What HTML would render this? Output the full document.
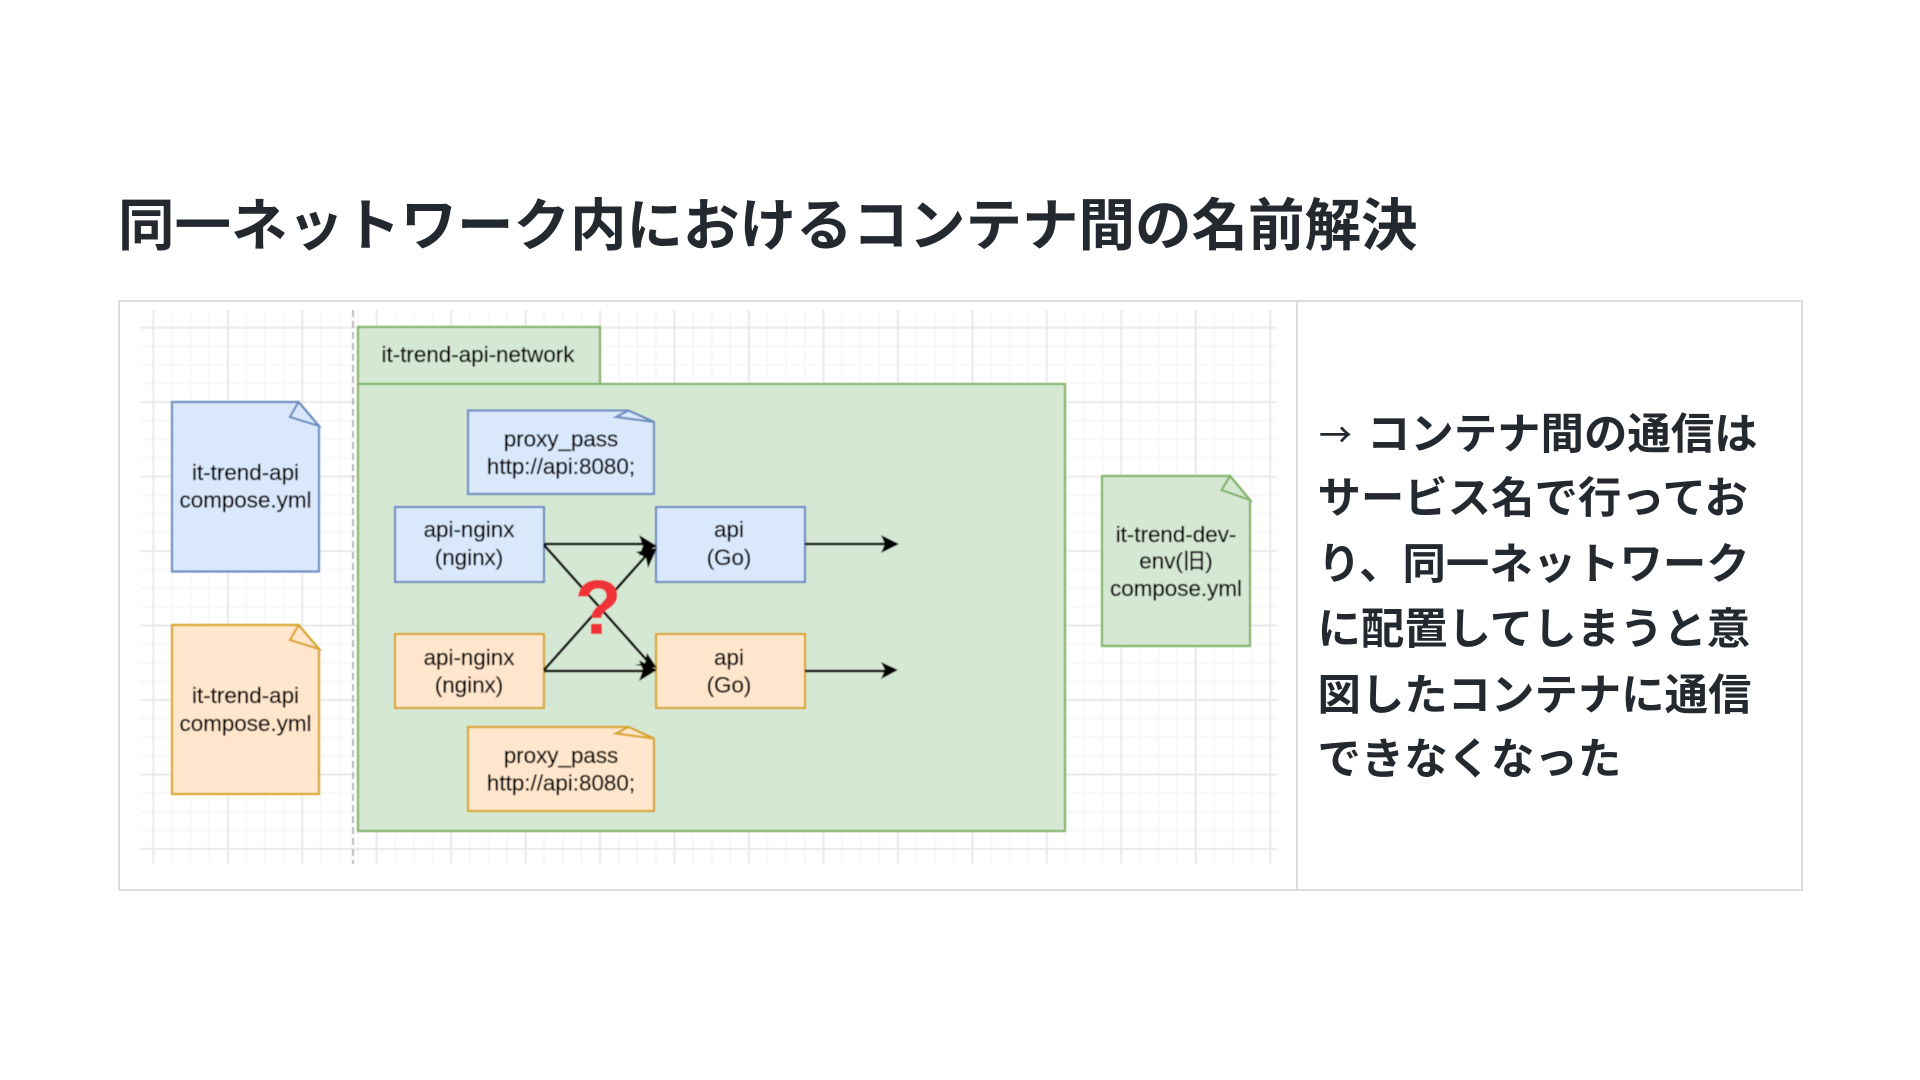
<!DOCTYPE html>
<html lang="ja">
<head>
<meta charset="utf-8">
<title>同一ネットワーク内におけるコンテナ間の名前解決</title>
<style>
html,body{margin:0;padding:0;background:#fff;width:1920px;height:1080px;overflow:hidden}
svg{display:block;position:absolute;left:0;top:0}
.jp{font-family:"Liberation Sans","Noto Sans CJK JP",sans-serif;font-weight:700;fill:#24292f}
.d text{font-family:"Liberation Sans","Noto Sans CJK JP",sans-serif;font-size:22.4px;fill:#000;stroke:#000;stroke-width:.3px;text-anchor:middle}
</style>
</head>
<body>
<svg width="1920" height="1080" viewBox="0 0 1920 1080" xmlns="http://www.w3.org/2000/svg">
  <defs>
    <pattern id="grid" patternUnits="userSpaceOnUse" x="152.3" y="326.7" width="74.46" height="74.46">
      <path d="M19.6 0V74.46M38.2 0V74.46M56.8 0V74.46M0 19.6H74.46M0 38.2H74.46M0 56.8H74.46" stroke="#f6f6f6" stroke-width="1.5" fill="none"/>
      <path d="M1 0V74.46M0 1H74.46" stroke="#e6e6e6" stroke-width="1.8" fill="none"/>
    </pattern>
    <filter id="soft" x="0" y="0" width="100%" height="100%"><feGaussianBlur stdDeviation="0.4"/></filter>
  </defs>

  <text class="jp" x="118" y="245" font-size="56.5">同一ネットワーク内におけるコンテナ間の名前解決</text>

  <g filter="url(#soft)">
    <rect x="140" y="310" width="1137" height="554" fill="url(#grid)"/>
    <line x1="353" y1="310" x2="353" y2="864" stroke="#a8a8a8" stroke-width="1.6" stroke-dasharray="7 4"/>

    <!-- network -->
    <rect x="358" y="327" width="242" height="57" fill="#d5e8d4" stroke="#82b366" stroke-width="2.2"/>
    <rect x="358" y="384" width="707" height="447" fill="#d5e8d4" stroke="#82b366" stroke-width="2.2"/>

    <!-- docs -->
    <path d="M172 402H298.5L319 426V571.500H172Z" fill="#dae8fc" stroke="#6c8ebf" stroke-width="2.2"/>
    <path d="M298.500 402L319 426L290 417Z" fill="#dae8fc" stroke="#6c8ebf" stroke-width="2.2"/>
    <path d="M172 625H298.5L319 649V794H172Z" fill="#ffe6cc" stroke="#d9a520" stroke-width="2.2"/>
    <path d="M298.500 625L319 649L290 640Z" fill="#ffe6cc" stroke="#d9a520" stroke-width="2.2"/>
    <path d="M1102 476H1230L1250 500V646H1102Z" fill="#d5e8d4" stroke="#82b366" stroke-width="2.2"/>
    <path d="M1230 476L1250 500L1221.500 490Z" fill="#d5e8d4" stroke="#82b366" stroke-width="2.2"/>

    <!-- proxy notes -->
    <path d="M468 410.500H628.500L654 422V494H468Z" fill="#dae8fc" stroke="#6c8ebf" stroke-width="2.2"/>
    <path d="M628.500 410.500L654 422L616 417Z" fill="#dae8fc" stroke="#6c8ebf" stroke-width="2.2"/>
    <path d="M468 727H628.500L654 738.500V811H468Z" fill="#ffe6cc" stroke="#d9a520" stroke-width="2.2"/>
    <path d="M628.500 727L654 738.500L616 733.500Z" fill="#ffe6cc" stroke="#d9a520" stroke-width="2.2"/>

    <!-- services -->
    <rect x="395" y="507" width="149" height="75" fill="#dae8fc" stroke="#6c8ebf" stroke-width="2.2"/>
    <rect x="656" y="507" width="149" height="75" fill="#dae8fc" stroke="#6c8ebf" stroke-width="2.2"/>
    <rect x="395" y="634" width="149" height="74" fill="#ffe6cc" stroke="#d9a520" stroke-width="2.2"/>
    <rect x="656" y="634" width="149" height="74" fill="#ffe6cc" stroke="#d9a520" stroke-width="2.2"/>

    <!-- connectors -->
    <g stroke="#000" stroke-width="2.6" fill="none">
      <path d="M544 544H650"/>
      <path d="M544 671H650"/>
      <path d="M544 545L652 666"/>
      <path d="M544 670L652 549"/>
      <path d="M805 544H890"/>
      <path d="M805 671H890"/>
    </g>
    <g fill="#000">
      <path d="M657 546L639 535L643 546L639 556Z"/>
      <path d="M657 548L636 552L646 558L648 568Z"/>
      <path d="M657 670L639 660L643 670L639 681Z"/>
      <path d="M657 668L647 653L645 663L635 665Z"/>
      <path d="M899 544L881 535L885 544L881 553Z"/>
      <path d="M898 670L881 662L885 670L881 679Z"/>
    </g>

    <text x="598" y="634" text-anchor="middle" font-family="Liberation Sans, sans-serif" font-weight="700" font-size="77" fill="#ee3338">?</text>

    <g class="d">
      <text x="478" y="362">it-trend-api-network</text>
      <text x="245.500" y="480">it-trend-api</text>
      <text x="245.500" y="507.500">compose.yml</text>
      <text x="245.500" y="703">it-trend-api</text>
      <text x="245.500" y="731">compose.yml</text>
      <text x="1176" y="542">it-trend-dev-</text>
      <text x="1176" y="568.500">env(旧)</text>
      <text x="1176" y="596">compose.yml</text>
      <text x="561" y="446.500">proxy_pass</text>
      <text x="561" y="474">http://api:8080;</text>
      <text x="561" y="763">proxy_pass</text>
      <text x="561" y="790.500">http://api:8080;</text>
      <text x="469" y="537">api-nginx</text>
      <text x="469" y="565">(nginx)</text>
      <text x="469" y="665">api-nginx</text>
      <text x="469" y="692.500">(nginx)</text>
      <text x="729" y="537">api</text>
      <text x="729" y="565">(Go)</text>
      <text x="729" y="665">api</text>
      <text x="729" y="692.500">(Go)</text>
    </g>
  </g>

  <rect x="119" y="301" width="1683" height="589" fill="none" stroke="#d8dee4" stroke-width="2"/>
  <line x1="1297" y1="301" x2="1297" y2="890" stroke="#d8dee4" stroke-width="2"/>

  <g class="jp" font-size="43.4">
    <text x="1319" y="447" font-size="33" style="font-family:'Noto Sans CJK JP',sans-serif;font-weight:500">→</text>
    <text x="1367" y="449">コンテナ間の通信は</text>
    <text x="1317.500" y="513">サービス名で行ってお</text>
    <text x="1317.500" y="579">り、同一ネットワーク</text>
    <text x="1317.500" y="644">に配置してしまうと意</text>
    <text x="1317.500" y="710">図したコンテナに通信</text>
    <text x="1317.500" y="774">できなくなった</text>
  </g>
</svg>
</body>
</html>
